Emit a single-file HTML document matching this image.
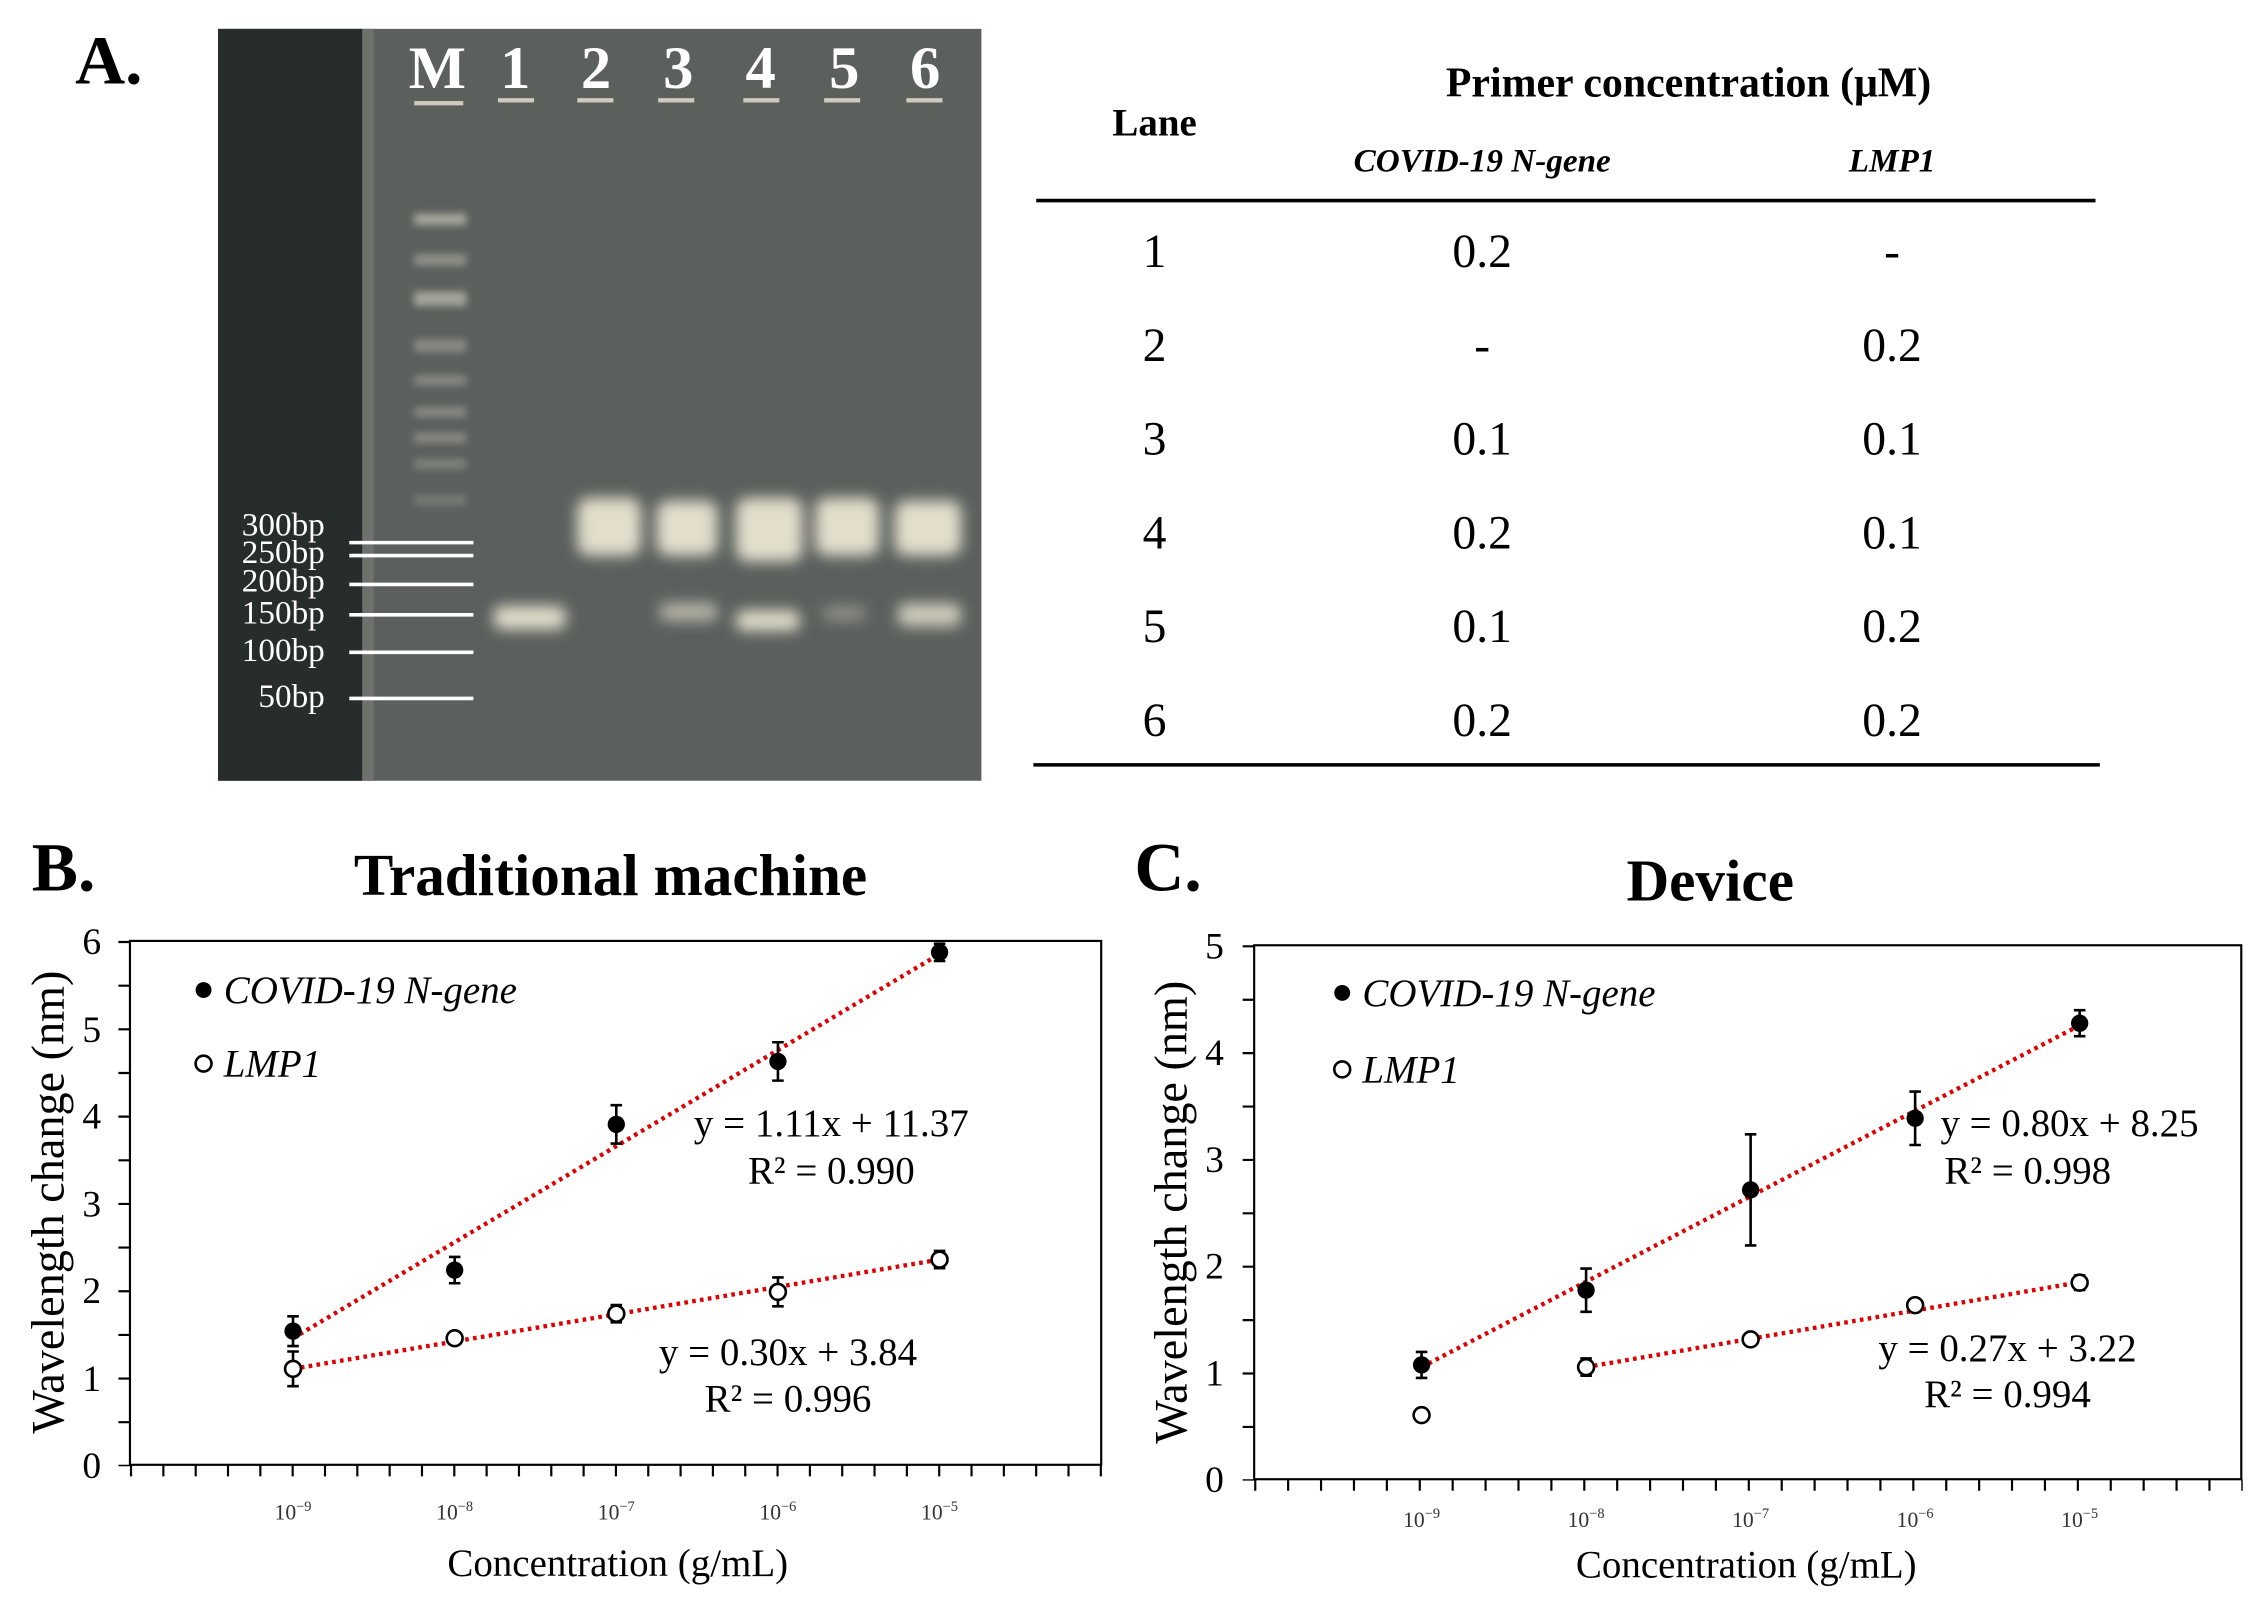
<!DOCTYPE html>
<html><head><meta charset="utf-8"><style>
html,body{margin:0;padding:0;background:#fff}
svg{display:block}
text{font-family:"Liberation Serif",serif}
</style></head><body>
<svg width="2263" height="1612" viewBox="0 0 1568 1117" xmlns="http://www.w3.org/2000/svg">
<defs>
<filter id="b4" x="-50%" y="-50%" width="200%" height="200%"><feGaussianBlur stdDeviation="5"/></filter>
<filter id="b2" x="-50%" y="-50%" width="200%" height="200%"><feGaussianBlur stdDeviation="2.5"/></filter>
</defs>
<rect width="1568" height="1117" fill="#fff"/>
<!-- A -->
<text x="52" y="58" font-size="48" font-weight="bold">A.</text>
<rect x="151" y="20" width="529" height="521" fill="#5b605d"/>
<rect x="151" y="20" width="100" height="521" fill="#272c2d"/>
<rect x="251" y="20" width="8" height="521" fill="#6e716c"/>
<g filter="url(#b2)" fill="#d8d4c4" opacity="0.6">
<rect x="287" y="148" width="36" height="8"/><rect x="287" y="176" width="36" height="8" opacity=".7"/>
<rect x="287" y="202" width="36" height="10"/><rect x="287" y="235" width="36" height="9" opacity=".6"/>
<rect x="287" y="260" width="36" height="7" opacity=".6"/><rect x="287" y="282" width="36" height="7" opacity=".6"/>
<rect x="287" y="300" width="36" height="7" opacity=".6"/><rect x="287" y="318" width="36" height="7" opacity=".5"/>
<rect x="287" y="343" width="36" height="7" opacity=".4"/>
</g>
<g filter="url(#b4)" fill="#f1ecd8" opacity="0.9">
<rect x="400" y="345" width="44" height="40" rx="8"/>
<rect x="455" y="347" width="42" height="38" rx="8"/>
<rect x="510" y="345" width="46" height="44" rx="8"/>
<rect x="565" y="345" width="44" height="40" rx="8"/>
<rect x="620" y="347" width="46" height="38" rx="8"/>
<rect x="342" y="420" width="50" height="16" rx="6"/>
<rect x="457" y="418" width="40" height="12" rx="5" opacity=".7"/>
<rect x="510" y="423" width="44" height="14" rx="5"/>
<rect x="570" y="420" width="30" height="10" rx="5" opacity=".4"/>
<rect x="622" y="418" width="44" height="16" rx="6" opacity=".85"/>
</g>
<g fill="#fff" font-size="42" font-weight="bold" text-anchor="middle">
<text x="303" y="61">M</text><text x="357" y="61">1</text><text x="413" y="61">2</text><text x="470" y="61">3</text><text x="527" y="61">4</text><text x="585" y="61">5</text><text x="641" y="61">6</text>
</g>
<g fill="#cfcabb"><rect x="345" y="68" width="25" height="3"/><rect x="400" y="68" width="25" height="3"/><rect x="456" y="68" width="25" height="3"/><rect x="515" y="68" width="25" height="3"/><rect x="571" y="68" width="25" height="3"/><rect x="628" y="68" width="25" height="3"/><rect x="287" y="70" width="34" height="3"/></g>
<g stroke="#fff" stroke-width="2.5">
<line x1="242" y1="376" x2="328" y2="376"/><line x1="242" y1="385" x2="328" y2="385"/><line x1="242" y1="405" x2="328" y2="405"/><line x1="242" y1="426" x2="328" y2="426"/><line x1="242" y1="452" x2="328" y2="452"/><line x1="242" y1="484" x2="328" y2="484"/>
</g>
<g fill="#fff" font-size="23" text-anchor="end">
<text x="225" y="371">300bp</text><text x="225" y="390">250bp</text><text x="225" y="410">200bp</text><text x="225" y="432">150bp</text><text x="225" y="458">100bp</text><text x="225" y="490">50bp</text>
</g>
<!-- table -->
<text x="800" y="94" font-size="27" font-weight="bold" text-anchor="middle">Lane</text>
<text x="1170" y="67" font-size="29" font-weight="bold" text-anchor="middle">Primer concentration (μM)</text>
<text x="1027" y="119" font-size="23" font-weight="bold" font-style="italic" text-anchor="middle">COVID-19 N-gene</text>
<text x="1311" y="119" font-size="23" font-weight="bold" font-style="italic" text-anchor="middle">LMP1</text>
<line x1="718" y1="139" x2="1452" y2="139" stroke="#000" stroke-width="2.5"/>
<line x1="716" y1="530" x2="1455" y2="530" stroke="#000" stroke-width="2.5"/>
<g font-size="33" text-anchor="middle">
<text x="800" y="185">1</text><text x="1027" y="185">0.2</text><text x="1311" y="185">-</text>
<text x="800" y="250">2</text><text x="1027" y="250">-</text><text x="1311" y="250">0.2</text>
<text x="800" y="315">3</text><text x="1027" y="315">0.1</text><text x="1311" y="315">0.1</text>
<text x="800" y="380">4</text><text x="1027" y="380">0.2</text><text x="1311" y="380">0.1</text>
<text x="800" y="445">5</text><text x="1027" y="445">0.1</text><text x="1311" y="445">0.2</text>
<text x="800" y="510">6</text><text x="1027" y="510">0.2</text><text x="1311" y="510">0.2</text>
</g>
<!-- B -->
<text x="22" y="617" font-size="48" font-weight="bold">B.</text>
<text x="423" y="620" font-size="41" font-weight="bold" text-anchor="middle">Traditional machine</text>
<rect x="90" y="652" width="673" height="363" fill="none" stroke="#000" stroke-width="1.5"/>
<line x1="90" y1="1019" x2="764" y2="1019" stroke="#000" stroke-width="8" stroke-dasharray="1.5 20.9"/>
<line x1="86" y1="652" x2="86" y2="1016" stroke="#000" stroke-width="8" stroke-dasharray="1.5 28.75"/>
<g font-size="26" text-anchor="end">
<text x="70" y="1024">0</text><text x="70" y="964">1</text><text x="70" y="903">2</text><text x="70" y="843">3</text><text x="70" y="782">4</text><text x="70" y="722">5</text><text x="70" y="661">6</text>
</g>
<g font-size="15" text-anchor="middle" fill="#333">
<text x="203" y="1053">10<tspan font-size="10" dy="-6">−9</tspan></text>
<text x="315" y="1053">10<tspan font-size="10" dy="-6">−8</tspan></text>
<text x="427" y="1053">10<tspan font-size="10" dy="-6">−7</tspan></text>
<text x="539" y="1053">10<tspan font-size="10" dy="-6">−6</tspan></text>
<text x="651" y="1053">10<tspan font-size="10" dy="-6">−5</tspan></text>
</g>
<text x="428" y="1092" font-size="27" text-anchor="middle">Concentration (g/mL)</text>
<text transform="translate(44,833) rotate(-90)" font-size="32" text-anchor="middle">Wavelength change (nm)</text>
<circle cx="141" cy="686" r="5.5"/><text x="155" y="695" font-size="27" font-style="italic">COVID-19 N-gene</text>
<circle cx="141" cy="737" r="5.5" fill="#fff" stroke="#000" stroke-width="1.8"/><text x="155" y="746" font-size="27" font-style="italic">LMP1</text>
<g stroke="#e00000" stroke-width="3" stroke-dasharray="2.5 3" fill="none">
<line x1="203" y1="927.3" x2="651" y2="661.1"/><line x1="203" y1="948.5" x2="651" y2="872.8"/>
</g>
<g stroke="#000" stroke-width="1.8">
<path d="M203 912.1V932.7M199 912.1H207M199 932.7H207 M315 871V889.2M311 871H319M311 889.2H319 M427 765.8V792.4M423 765.8H431M423 792.4H431 M539 722.2V748.8M535 722.2H543M535 748.8H543 M651 653.9V665.9M647 653.9H655M647 665.9H655"/>
<path d="M203 936.5V960.5M199 936.5H207M199 960.5H207 M427 904.3V916.3M423 904.3H431M423 916.3H431 M539 885.2V905.2M535 885.2H543M535 905.2H543 M651 866.8V878.8M647 866.8H655M647 878.8H655"/>
</g>
<g><circle cx="203" cy="922.4" r="6"/><circle cx="315" cy="880.1" r="6"/><circle cx="427" cy="779.1" r="6"/><circle cx="539" cy="735.5" r="6"/><circle cx="651" cy="659.9" r="6"/></g>
<g fill="#fff" stroke="#000" stroke-width="1.8"><circle cx="203" cy="948.5" r="5.5"/><circle cx="315" cy="927.3" r="5.5"/><circle cx="427" cy="910.3" r="5.5"/><circle cx="539" cy="895.2" r="5.5"/><circle cx="651" cy="872.8" r="5.5"/></g>
<g font-size="27" text-anchor="middle">
<text x="576" y="787">y = 1.11x + 11.37</text><text x="576" y="820">R² = 0.990</text>
<text x="546" y="946">y = 0.30x + 3.84</text><text x="546" y="978">R² = 0.996</text>
</g>
<!-- C -->
<text x="786" y="617" font-size="48" font-weight="bold">C.</text>
<text x="1185" y="624" font-size="41" font-weight="bold" text-anchor="middle">Device</text>
<rect x="869" y="655" width="684" height="370" fill="none" stroke="#000" stroke-width="1.5"/>
<line x1="869" y1="1029" x2="1554" y2="1029" stroke="#000" stroke-width="8" stroke-dasharray="1.5 21.3"/>
<line x1="865" y1="655" x2="865" y2="1026" stroke="#000" stroke-width="8" stroke-dasharray="1.5 35.5"/>
<g font-size="26" text-anchor="end">
<text x="848" y="1034">0</text><text x="848" y="960">1</text><text x="848" y="886">2</text><text x="848" y="812">3</text><text x="848" y="738">4</text><text x="848" y="664">5</text>
</g>
<g font-size="15" text-anchor="middle" fill="#333">
<text x="985" y="1058">10<tspan font-size="10" dy="-6">−9</tspan></text>
<text x="1099" y="1058">10<tspan font-size="10" dy="-6">−8</tspan></text>
<text x="1213" y="1058">10<tspan font-size="10" dy="-6">−7</tspan></text>
<text x="1327" y="1058">10<tspan font-size="10" dy="-6">−6</tspan></text>
<text x="1441" y="1058">10<tspan font-size="10" dy="-6">−5</tspan></text>
</g>
<text x="1210" y="1093" font-size="27" text-anchor="middle">Concentration (g/mL)</text>
<text transform="translate(822,840) rotate(-90)" font-size="32" text-anchor="middle">Wavelength change (nm)</text>
<circle cx="930" cy="688" r="5.5"/><text x="944" y="697" font-size="27" font-style="italic">COVID-19 N-gene</text>
<circle cx="930" cy="741" r="5.5" fill="#fff" stroke="#000" stroke-width="1.8"/><text x="944" y="750" font-size="27" font-style="italic">LMP1</text>
<g stroke="#e00000" stroke-width="3" stroke-dasharray="2.5 3" fill="none">
<line x1="985" y1="947.3" x2="1441" y2="710.5"/><line x1="1099" y1="947.3" x2="1441" y2="888.5"/>
</g>
<g stroke="#000" stroke-width="1.8">
<path d="M985 936.8V954.8M981 936.8H989M981 954.8H989 M1099 879V909M1095 879H1103M1095 909H1103 M1213 786V863M1209 786H1217M1209 863H1217 M1327 756.4V793.4M1323 756.4H1331M1323 793.4H1331 M1441 700V718M1437 700H1445M1437 718H1445"/>
<path d="M1099 941.3V953.3M1095 941.3H1103M1095 953.3H1103 M1327 900.4V908.4M1323 900.4H1331M1323 908.4H1331 M1441 883.8V893.8M1437 883.8H1445M1437 893.8H1445"/>
</g>
<g><circle cx="985" cy="945.8" r="6"/><circle cx="1099" cy="894" r="6"/><circle cx="1213" cy="824.5" r="6"/><circle cx="1327" cy="774.9" r="6"/><circle cx="1441" cy="709" r="6"/></g>
<g fill="#fff" stroke="#000" stroke-width="1.8"><circle cx="985" cy="980.6" r="5.5"/><circle cx="1099" cy="947.3" r="5.5"/><circle cx="1213" cy="928.1" r="5.5"/><circle cx="1327" cy="904.4" r="5.5"/><circle cx="1441" cy="888.8" r="5.5"/></g>
<g font-size="27" text-anchor="middle">
<text x="1434" y="787">y = 0.80x + 8.25</text><text x="1405" y="820">R² = 0.998</text>
<text x="1391" y="943">y = 0.27x + 3.22</text><text x="1391" y="975">R² = 0.994</text>
</g>
</svg>
</body></html>
